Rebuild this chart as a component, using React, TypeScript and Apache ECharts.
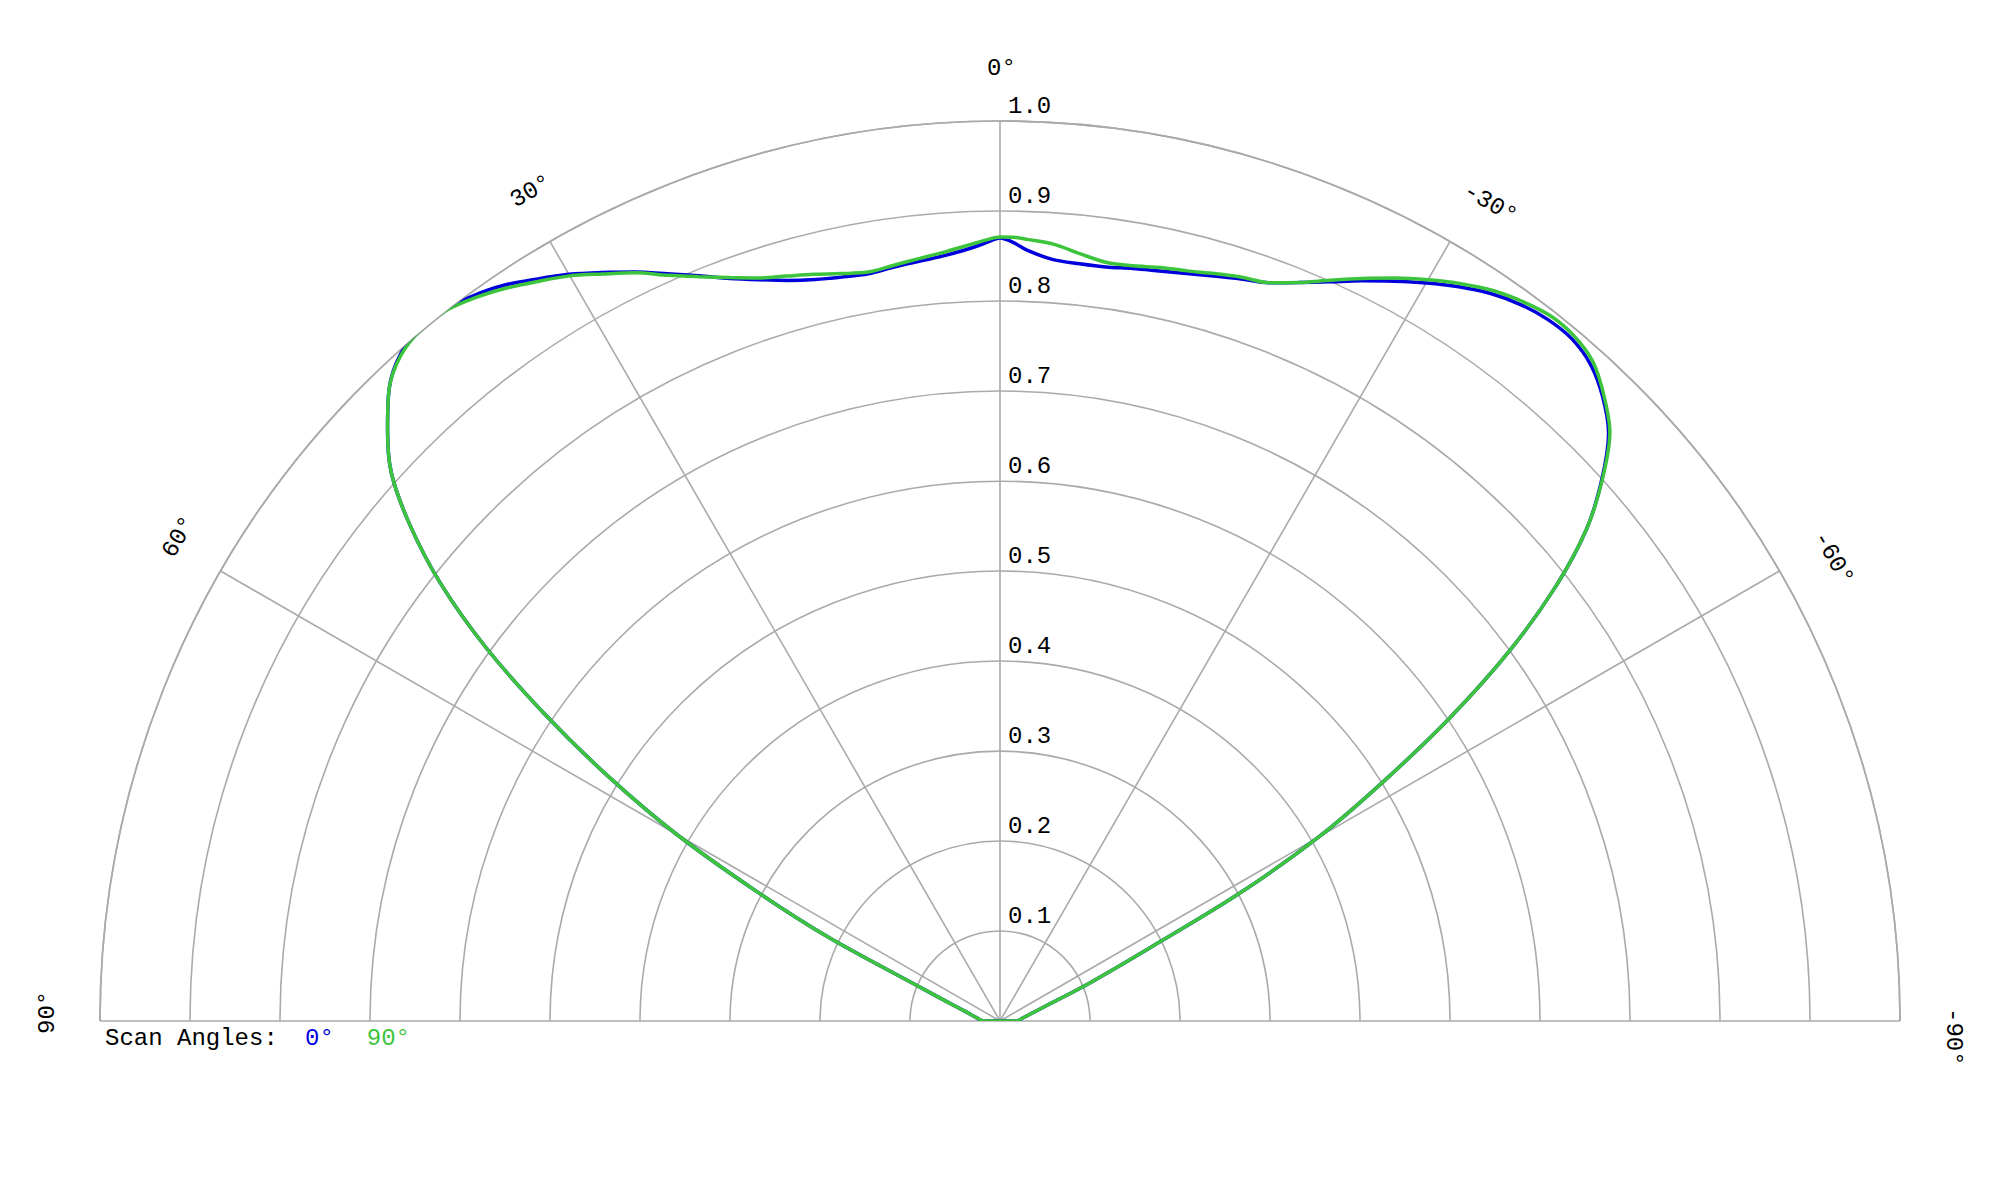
import React, { useEffect, useRef } from "react";
import * as echarts from "echarts";

// Angle (degrees, positive = left of boresight) at which each value was read
const ANGLES = [
  90, 85, 80, 75, 70, 67, 64, 62, 60, 58, 56, 54, 52, 50, 48, 46, 44, 42, 40, 38,
  36, 34, 32, 30, 28, 26, 24, 22, 20, 18, 16, 14, 12, 10, 8, 6, 4, 2, 1, 0,
  -1, -2, -4, -6, -8, -10, -12, -14, -16, -18, -20, -22, -24, -26, -28, -30, -32, -34, -36, -38,
  -40, -42, -44, -46, -48, -50, -52, -54, -56, -58, -60, -62, -64, -67, -70, -75, -80, -85, -90,
];

// Scan angle 0° (blue)
const SCAN_0 = [
  0.019, 0.023, 0.029, 0.039, 0.063, 0.098, 0.211, 0.305, 0.415, 0.514, 0.611, 0.706, 0.788, 0.855, 0.910, 0.946, 0.977, 0.996, 1.003, 1.003,
  0.996, 0.986, 0.972, 0.958, 0.942, 0.926, 0.909, 0.893, 0.878, 0.866, 0.856, 0.849, 0.845, 0.843, 0.846, 0.849, 0.853, 0.860, 0.865, 0.870,
  0.865, 0.857, 0.848, 0.846, 0.846, 0.849, 0.852, 0.856, 0.861, 0.867, 0.873, 0.885, 0.899, 0.915, 0.931, 0.947, 0.962, 0.975, 0.984, 0.989,
  0.989, 0.981, 0.964, 0.940, 0.900, 0.851, 0.783, 0.700, 0.604, 0.503, 0.409, 0.298, 0.185, 0.109, 0.067, 0.040, 0.029, 0.023, 0.019,
];

// Scan angle 90° (green)
const SCAN_90 = [
  0.019, 0.023, 0.029, 0.039, 0.063, 0.098, 0.211, 0.305, 0.415, 0.514, 0.611, 0.706, 0.788, 0.855, 0.910, 0.946, 0.977, 0.995, 1.002, 1.001,
  0.993, 0.982, 0.969, 0.956, 0.940, 0.925, 0.907, 0.892, 0.879, 0.868, 0.861, 0.855, 0.849, 0.845, 0.848, 0.852, 0.857, 0.864, 0.868, 0.871,
  0.871, 0.869, 0.865, 0.857, 0.851, 0.852, 0.856, 0.859, 0.864, 0.869, 0.873, 0.885, 0.901, 0.918, 0.935, 0.951, 0.966, 0.979, 0.988, 0.994,
  0.993, 0.985, 0.966, 0.942, 0.901, 0.851, 0.783, 0.700, 0.604, 0.503, 0.409, 0.298, 0.185, 0.109, 0.067, 0.040, 0.029, 0.023, 0.019,
];

const SERIES_NAMES = ["0°", "90°"];
const ANGLE_TICKS = [90, 60, 30, 0, -30, -60, -90];
const LEGEND_TITLE = "Scan Angles:";

const CX = 1000;
const CY = 1021;
const R = 900;
const FONT = '"Liberation Mono", "Courier New", monospace';
const BLUE = "#0000dd";
const GREEN = "#3cc43c";
const GRID = "#aaaaaa";

export default function App() {
  const ref = useRef<HTMLDivElement>(null);

  useEffect(() => {
    const chart = echarts.init(ref.current!, null, { renderer: "svg" });

    const toPairs = (vals: number[]) => {
      const d = ANGLES.map((a, i) => [vals[i], a]);
      d.push(d[0]);
      return d;
    };

    const labelR = 953;
    const angleLabels = ANGLE_TICKS.map((t) => {
      const rad = (t * Math.PI) / 180;
      return {
        type: "text",
        x: CX - labelR * Math.sin(rad),
        y: CY - labelR * Math.cos(rad),
        rotation: rad,
        silent: true,
        style: {
          text: `${t}°`,
          x: -13,
          y: 0,
          textAlign: "left",
          textVerticalAlign: "middle",
          fontSize: 24,
          fontFamily: FONT,
          fill: "#000",
        },
      };
    });

    chart.setOption({
      animation: false,
      backgroundColor: "#ffffff",
      polar: [
        { center: [CX, CY], radius: R },
        { center: [CX, CY], radius: R },
      ],
      angleAxis: [
        {
          polarIndex: 0,
          type: "value",
          min: -90,
          max: 90,
          interval: 30,
          startAngle: 0,
          endAngle: 180,
          clockwise: false,
          axisLine: { show: true, lineStyle: { color: GRID, width: 1.6 } },
          axisTick: { show: false },
          axisLabel: { show: false },
          splitLine: { show: true, lineStyle: { color: GRID, width: 1.6 } },
        },
        {
          polarIndex: 1,
          type: "value",
          min: 0,
          max: 360,
          startAngle: 90,
          show: false,
        },
      ],
      radiusAxis: [
        {
          polarIndex: 0,
          type: "value",
          min: 0,
          max: 1,
          interval: 0.1,
          axisLine: { show: false },
          axisTick: { show: false },
          axisLabel: { show: false },
          splitLine: { show: true, lineStyle: { color: GRID, width: 1.6 } },
        },
        {
          polarIndex: 1,
          type: "value",
          min: 0,
          max: 1,
          interval: 0.1,
          axisLine: { show: false },
          axisTick: { show: false },
          splitLine: { show: false },
          axisLabel: {
            show: true,
            margin: -8,
            align: "left",
            verticalAlign: "bottom",
            padding: [0, 0, 3, 0],
            fontSize: 24,
            fontFamily: FONT,
            color: "#000",
            showMinLabel: false,
            formatter: (v: number) => (v === 0 ? "" : v.toFixed(1)),
          },
        },
      ],
      legend: {
        left: 300,
        top: 1026,
        padding: 0,
        itemGap: 28,
        itemWidth: 0,
        itemHeight: 24,
        icon: "none",
        selectedMode: false,
        data: [
          { name: SERIES_NAMES[0], textStyle: { color: BLUE } },
          { name: SERIES_NAMES[1], textStyle: { color: GREEN } },
        ],
        textStyle: { fontSize: 24, fontFamily: FONT },
      },
      graphic: [
        ...angleLabels,
        {
          type: "text",
          x: 105,
          y: 1038,
          silent: true,
          style: {
            text: LEGEND_TITLE,
            textAlign: "left",
            textVerticalAlign: "middle",
            fontSize: 24,
            fontFamily: FONT,
            fill: "#000",
          },
        },
      ],
      series: [
        {
          name: SERIES_NAMES[0],
          type: "line",
          coordinateSystem: "polar",
          polarIndex: 0,
          data: toPairs(SCAN_0),
          showSymbol: false,
          symbol: "none",
          smooth: 0.3,
          clip: false,
          lineStyle: { color: BLUE, width: 3.5 },
          itemStyle: { color: BLUE },
        },
        {
          name: SERIES_NAMES[1],
          type: "line",
          coordinateSystem: "polar",
          polarIndex: 0,
          data: toPairs(SCAN_90),
          showSymbol: false,
          symbol: "none",
          smooth: 0.3,
          clip: false,
          lineStyle: { color: GREEN, width: 3.5 },
          itemStyle: { color: GREEN },
        },
      ],
    });

    return () => chart.dispose();
  }, []);

  return (
    <div
      ref={ref}
      style={{ position: "absolute", left: 0, top: 0, width: 2000, height: 1200, background: "#fff" }}
    />
  );
}
